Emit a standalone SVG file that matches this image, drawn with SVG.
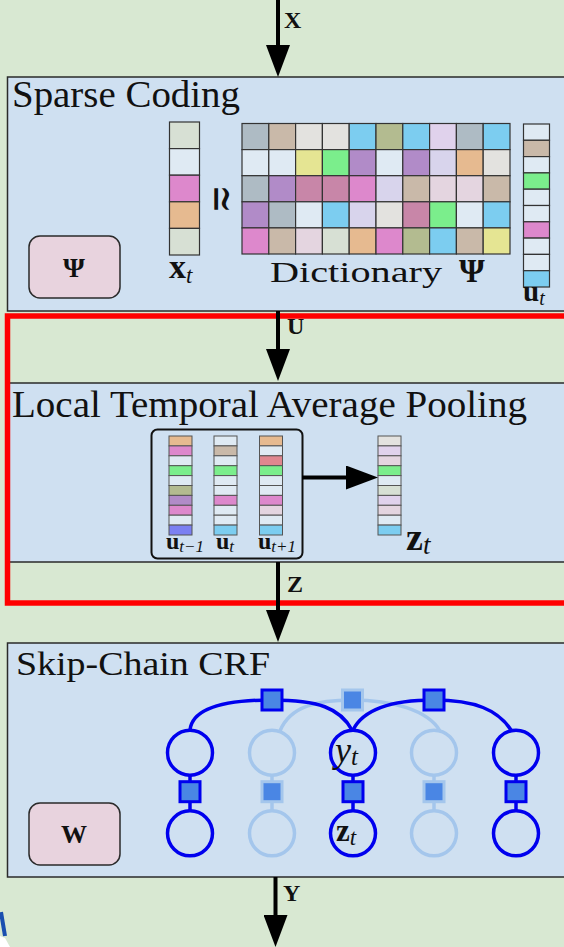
<svg xmlns="http://www.w3.org/2000/svg" width="564" height="947" viewBox="0 0 564 947">
<style>
.box{fill:#cfe0f1;stroke:#2a2a2a;stroke-width:1.5}
.pbox{fill:#e8d3de;stroke:#2a2a2a;stroke-width:1.5}
.ttl{font-family:"Liberation Serif",serif;fill:#111}
.b{font-family:"Liberation Serif",serif;font-weight:bold;fill:#111}
.it{font-family:"Liberation Serif",serif;font-style:italic;font-weight:normal}
.m rect{stroke:#333;stroke-width:1.2}
.c rect{stroke:#555;stroke-width:1}
.gb{fill:#aebbc4}.tn{fill:#c9b9a9}.lg{fill:#e3e2df}.sk{fill:#7ccdf0}.ol{fill:#b3bb90}.lv{fill:#e0d2ec}
.lb{fill:#dfeaf3}.yl{fill:#e5e593}.gr{fill:#7bee8c}.pu{fill:#b18bc8}.mv{fill:#c886a8}.pk{fill:#dd88cc}
.pl{fill:#e4d5e0}.sg{fill:#d7e0d4}.or{fill:#e6ba90}.ld{fill:#d8d4ec}.bl{fill:#7b80f2}.rd{fill:#e0878f}
.conn{stroke:#000;stroke-width:4;fill:none}
.dk{stroke:#0000ee;stroke-width:3.5;fill:none}
.lt{stroke:#a4c6ec;stroke-width:3.5;fill:none}
.fdk{fill:#4a86e4;stroke:#0000ee;stroke-width:3}
.flt{fill:#4a86e4;stroke:#a4c6ec;stroke-width:3}
</style>
<defs>
<marker id="ah" viewBox="0 0 32 24" refX="16" refY="12" markerWidth="32" markerHeight="24" markerUnits="userSpaceOnUse" orient="auto">
<path d="M0,0 L32,12 L0,24 Z" fill="#000"/>
</marker>
</defs>
<rect x="0" y="0" width="564" height="947" fill="#d8e8d2"/>

<g id="sparse-coding">
<rect class="box" x="7.5" y="77" width="570" height="234"/>
<text class="ttl" x="12" y="107" font-size="37" textLength="228" lengthAdjust="spacingAndGlyphs">Sparse Coding</text>
<g id="psi-box">
<rect class="pbox" x="29" y="236" width="91" height="62" rx="11"/>
<text class="b" x="74" y="277" font-size="28" text-anchor="middle">Ψ</text>
</g>
<g class="m" id="xt">
<rect class="sg" x="169.5" y="122" width="30" height="26.6"/>
<rect class="lb" x="169.5" y="148.6" width="30" height="26.6"/>
<rect class="pk" x="169.5" y="175.2" width="30" height="26.6"/>
<rect class="or" x="169.5" y="201.8" width="30" height="26.6"/>
<rect class="sg" x="169.5" y="228.4" width="30" height="26.6"/>
</g>
<text class="b" x="169" y="278" font-size="34">x<tspan class="it" font-size="23" dy="5">t</tspan></text>
<text transform="translate(221,199) rotate(90) scale(1,1.4)" font-family="DejaVu Serif,serif" font-size="34" text-anchor="middle" dy="0.32em" fill="#111">≃</text>
<g class="m" id="dictionary">
<g transform="translate(0,123.5)">
<rect class="gb" x="242" width="26.8" height="26.1"/><rect class="tn" x="268.8" width="26.8" height="26.1"/><rect class="lg" x="295.6" width="26.8" height="26.1"/><rect class="lg" x="322.4" width="26.8" height="26.1"/><rect class="sk" x="349.2" width="26.8" height="26.1"/><rect class="ol" x="376" width="26.8" height="26.1"/><rect class="sk" x="402.8" width="26.8" height="26.1"/><rect class="lv" x="429.6" width="26.8" height="26.1"/><rect class="gb" x="456.4" width="26.8" height="26.1"/><rect class="sk" x="483.2" width="26.8" height="26.1"/>
</g>
<g transform="translate(0,149.6)">
<rect class="lb" x="242" width="26.8" height="26.1"/><rect class="lb" x="268.8" width="26.8" height="26.1"/><rect class="yl" x="295.6" width="26.8" height="26.1"/><rect class="gr" x="322.4" width="26.8" height="26.1"/><rect class="pu" x="349.2" width="26.8" height="26.1"/><rect class="lb" x="376" width="26.8" height="26.1"/><rect class="pu" x="402.8" width="26.8" height="26.1"/><rect class="ld" x="429.6" width="26.8" height="26.1"/><rect class="or" x="456.4" width="26.8" height="26.1"/><rect class="lg" x="483.2" width="26.8" height="26.1"/>
</g>
<g transform="translate(0,175.7)">
<rect class="gb" x="242" width="26.8" height="26.1"/><rect class="pu" x="268.8" width="26.8" height="26.1"/><rect class="mv" x="295.6" width="26.8" height="26.1"/><rect class="mv" x="322.4" width="26.8" height="26.1"/><rect class="pk" x="349.2" width="26.8" height="26.1"/><rect class="ld" x="376" width="26.8" height="26.1"/><rect class="tn" x="402.8" width="26.8" height="26.1"/><rect class="pl" x="429.6" width="26.8" height="26.1"/><rect class="pl" x="456.4" width="26.8" height="26.1"/><rect class="tn" x="483.2" width="26.8" height="26.1"/>
</g>
<g transform="translate(0,201.8)">
<rect class="pu" x="242" width="26.8" height="26.1"/><rect class="gb" x="268.8" width="26.8" height="26.1"/><rect class="lb" x="295.6" width="26.8" height="26.1"/><rect class="sk" x="322.4" width="26.8" height="26.1"/><rect class="ld" x="349.2" width="26.8" height="26.1"/><rect class="lg" x="376" width="26.8" height="26.1"/><rect class="mv" x="402.8" width="26.8" height="26.1"/><rect class="gr" x="429.6" width="26.8" height="26.1"/><rect class="lb" x="456.4" width="26.8" height="26.1"/><rect class="sk" x="483.2" width="26.8" height="26.1"/>
</g>
<g transform="translate(0,227.9)">
<rect class="pk" x="242" width="26.8" height="26.1"/><rect class="tn" x="268.8" width="26.8" height="26.1"/><rect class="pl" x="295.6" width="26.8" height="26.1"/><rect class="sg" x="322.4" width="26.8" height="26.1"/><rect class="or" x="349.2" width="26.8" height="26.1"/><rect class="pk" x="376" width="26.8" height="26.1"/><rect class="ol" x="402.8" width="26.8" height="26.1"/><rect class="sk" x="429.6" width="26.8" height="26.1"/><rect class="tn" x="456.4" width="26.8" height="26.1"/><rect class="yl" x="483.2" width="26.8" height="26.1"/>
</g>
</g>
<text class="ttl" x="270" y="282" font-size="30" textLength="172" lengthAdjust="spacingAndGlyphs">Dictionary</text>
<text class="b" x="459" y="282" font-size="33">Ψ</text>
<g class="m" id="ut">
<rect class="lb" x="523.5" y="124" width="26" height="16.3"/>
<rect class="tn" x="523.5" y="140.3" width="26" height="16.3"/>
<rect class="lb" x="523.5" y="156.6" width="26" height="16.3"/>
<rect class="gr" x="523.5" y="172.9" width="26" height="16.3"/>
<rect class="lb" x="523.5" y="189.2" width="26" height="16.3"/>
<rect class="lb" x="523.5" y="205.5" width="26" height="16.3"/>
<rect class="pk" x="523.5" y="221.8" width="26" height="16.3"/>
<rect class="lb" x="523.5" y="238.1" width="26" height="16.3"/>
<rect class="lb" x="523.5" y="254.4" width="26" height="16.3"/>
<rect class="sk" x="523.5" y="270.7" width="26" height="16.3"/>
</g>
<text class="b" x="523" y="301" font-size="29">u<tspan class="it" font-size="20" dy="4">t</tspan></text>
</g>

<g id="pooling">
<rect class="box" x="7.5" y="383" width="570" height="179"/>
<text class="ttl" x="12" y="417" font-size="37" textLength="515" lengthAdjust="spacingAndGlyphs">Local Temporal Average Pooling</text>
<rect x="151.5" y="429.5" width="151" height="129" rx="6" fill="none" stroke="#111" stroke-width="2"/>
<g class="c">
<g transform="translate(169,0)">
<rect class="or" y="436" width="23" height="9.9"/><rect class="pk" y="445.9" width="23" height="9.9"/><rect class="lb" y="455.8" width="23" height="9.9"/><rect class="gr" y="465.7" width="23" height="9.9"/><rect class="lb" y="475.6" width="23" height="9.9"/><rect class="ol" y="485.5" width="23" height="9.9"/><rect class="pu" y="495.4" width="23" height="9.9"/><rect class="pk" y="505.3" width="23" height="9.9"/><rect class="lb" y="515.2" width="23" height="9.9"/><rect class="bl" y="525.1" width="23" height="9.9"/>
</g>
<g transform="translate(214,0)">
<rect class="lb" y="436" width="23" height="9.9"/><rect class="tn" y="445.9" width="23" height="9.9"/><rect class="lb" y="455.8" width="23" height="9.9"/><rect class="gr" y="465.7" width="23" height="9.9"/><rect class="lb" y="475.6" width="23" height="9.9"/><rect class="lb" y="485.5" width="23" height="9.9"/><rect class="pk" y="495.4" width="23" height="9.9"/><rect class="lb" y="505.3" width="23" height="9.9"/><rect class="lb" y="515.2" width="23" height="9.9"/><rect class="sk" y="525.1" width="23" height="9.9"/>
</g>
<g transform="translate(259.5,0)">
<rect class="or" y="436" width="23" height="9.9"/><rect class="lb" y="445.9" width="23" height="9.9"/><rect class="rd" y="455.8" width="23" height="9.9"/><rect class="gr" y="465.7" width="23" height="9.9"/><rect class="lb" y="475.6" width="23" height="9.9"/><rect class="lb" y="485.5" width="23" height="9.9"/><rect class="pk" y="495.4" width="23" height="9.9"/><rect class="pl" y="505.3" width="23" height="9.9"/><rect class="lb" y="515.2" width="23" height="9.9"/><rect class="sk" y="525.1" width="23" height="9.9"/>
</g>
<g transform="translate(378,0)">
<rect class="lg" y="436" width="23" height="9.9"/><rect class="lv" y="445.9" width="23" height="9.9"/><rect class="pl" y="455.8" width="23" height="9.9"/><rect class="gr" y="465.7" width="23" height="9.9"/><rect class="lb" y="475.6" width="23" height="9.9"/><rect class="sg" y="485.5" width="23" height="9.9"/><rect class="lv" y="495.4" width="23" height="9.9"/><rect class="pl" y="505.3" width="23" height="9.9"/><rect class="lb" y="515.2" width="23" height="9.9"/><rect class="sk" y="525.1" width="23" height="9.9"/>
</g>
</g>
<text class="b" x="166" y="549" font-size="24">u<tspan class="it" font-size="17" dy="3">t−1</tspan></text>
<text class="b" x="216" y="549" font-size="24">u<tspan class="it" font-size="17" dy="3">t</tspan></text>
<text class="b" x="258" y="549" font-size="24">u<tspan class="it" font-size="17" dy="3">t+1</tspan></text>
<text class="b" x="406" y="550" font-size="38">z<tspan class="it" font-size="27" dy="4">t</tspan></text>
</g>

<g id="skip-chain-crf">
<rect class="box" x="7.5" y="643" width="570" height="234"/>
<text class="ttl" x="16" y="675" font-size="33" textLength="254" lengthAdjust="spacingAndGlyphs">Skip-Chain CRF</text>
<g id="w-box">
<rect class="pbox" x="29" y="803" width="91" height="62" rx="11"/>
<text class="b" x="74" y="843" font-size="26" text-anchor="middle">W</text>
</g>
<g id="crf-light">
<path class="lt" d="M280,731 C290,706 318,700 352,700 C392,700 428,710 440,731"/>
<line class="lt" x1="272" y1="775" x2="272" y2="811"/>
<line class="lt" x1="434" y1="775" x2="434" y2="811"/>
<circle class="lt" cx="272" cy="752.7" r="22.5"/>
<circle class="lt" cx="272" cy="833.3" r="22.5"/>
<circle class="lt" cx="434" cy="752.7" r="22.5"/>
<circle class="lt" cx="434" cy="833.3" r="22.5"/>
<rect class="flt" x="342.5" y="690" width="20" height="20"/>
<rect class="flt" x="262" y="781.7" width="20" height="20"/>
<rect class="flt" x="424" y="781.7" width="20" height="20"/>
</g>
<g id="crf-dark">
<path class="dk" d="M190,730 C192,712 215,700 272,700 C318,700 340,708 352,730"/>
<path class="dk" d="M353,730 C362,712 385,700 434,700 C475,700 498,710 511,730"/>
<line class="dk" x1="190" y1="775" x2="190" y2="811"/>
<line class="dk" x1="353" y1="775" x2="353" y2="811"/>
<line class="dk" x1="516" y1="775" x2="516" y2="811"/>
<circle class="dk" cx="190" cy="752.7" r="22.5"/>
<circle class="dk" cx="190" cy="833.3" r="22.5"/>
<circle class="dk" cx="353" cy="752.7" r="22.5"/>
<circle class="dk" cx="353" cy="833.3" r="22.5"/>
<circle class="dk" cx="516" cy="752.7" r="22.5"/>
<circle class="dk" cx="516" cy="833.3" r="22.5"/>
<rect class="fdk" x="262" y="690" width="20" height="20"/>
<rect class="fdk" x="424" y="690" width="20" height="20"/>
<rect class="fdk" x="180" y="781.7" width="20" height="20"/>
<rect class="fdk" x="343" y="781.7" width="20" height="20"/>
<rect class="fdk" x="506" y="781.7" width="20" height="20"/>
</g>
<text class="it" x="335" y="762" font-size="36" fill="#111" font-family="Liberation Serif,serif">y<tspan font-size="25" dy="3">t</tspan></text>
<text class="b" x="336" y="841" font-size="31">z<tspan class="it" font-size="23" dy="4">t</tspan></text>
</g>

<g id="red-highlight">
<rect x="7.5" y="316" width="570" height="287" fill="none" stroke="#ff0000" stroke-width="5.5"/>
</g>

<g id="connectors">
<line class="conn" x1="278" y1="0" x2="278" y2="61" marker-end="url(#ah)"/>
<text class="b" x="284" y="28" font-size="24">X</text>
<line class="conn" x1="278" y1="311" x2="278" y2="365" marker-end="url(#ah)"/>
<text class="b" x="287" y="334" font-size="24">U</text>
<line class="conn" x1="302" y1="477.5" x2="362" y2="477.5" marker-end="url(#ah)"/>
<line class="conn" x1="278" y1="562" x2="278" y2="626" marker-end="url(#ah)"/>
<text class="b" x="287" y="592" font-size="24">Z</text>
<line class="conn" x1="275.5" y1="877" x2="275.5" y2="931" marker-end="url(#ah)"/>
<text class="b" x="283" y="901" font-size="24">Y</text>
</g>

<path d="M0,936 L5,938 L10,947 L0,947 Z" fill="#ffffff"/>
<line x1="1" y1="912" x2="5" y2="936" stroke="#1a4fb0" stroke-width="4"/>
</svg>
